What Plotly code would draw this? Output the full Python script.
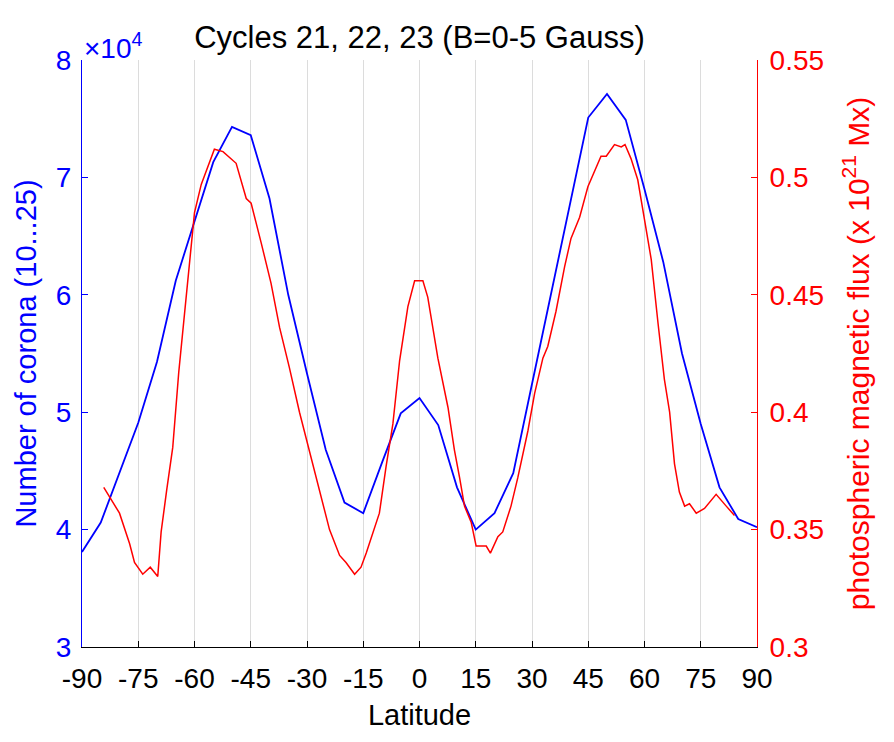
import plotly.graph_objects as go

# number of corona (blue), 5-degree bins
lat_corona = [-90, -85, -75, -70, -65, -60, -55, -50, -45, -40, -35, -30, -25, -20, -15, -10, -5,
              0, 5, 10, 15, 20, 25, 30, 35, 40, 45, 50, 55, 60, 65, 70, 75, 80, 85, 90]
corona = [38100, 40600, 49100, 54300, 61200, 66300, 71300, 74300, 73600, 68200, 60000, 53300, 46800,
          42300, 41400, 45700, 49900, 51200, 48900, 43600, 40000, 41400, 44800, 52400, 60000, 67500,
          75100, 77100, 74900, 69000, 62800, 55000, 49000, 43600, 40900, 40200]

# photospheric magnetic flux (red), 1e21 Mx
lat_flux = [-84.2, -80, -77.3, -76, -73.8, -71.8, -69.8, -68.9, -67.4, -65.8, -64.2, -62.2, -60, -58.2,
            -56, -54.7, -52.4, -50.2, -48.9, -46.2, -44.9, -42.2, -39.6, -37.3, -34.7, -32, -29.3,
            -26.7, -24, -21.3, -19.6, -17.3, -15.6, -14.2, -12.4, -10.7, -8.9, -7.1, -5.3, -3.1, -1.3,
            0.1, 0.9, 2.2, 4.9, 7.6, 9.3, 10.7, 12, 13.8, 15.1, 17.8, 18.9, 20.9, 22.2, 24.4, 26.2,
            28.9, 30.7, 32.9, 34.2, 36.4, 38.7, 40.4, 42.7, 44.9, 47.1, 48.4, 49.8, 52, 53.8, 54.8,
            56.4, 58.2, 60, 61.8, 63.6, 65.3, 66.7, 68, 69.3, 70.7, 72, 73.8, 76, 79.1, 81.8, 84]
flux = [0.368, 0.357, 0.344, 0.336, 0.331, 0.334, 0.330, 0.349, 0.367, 0.385, 0.417, 0.451, 0.485, 0.497,
        0.507, 0.512, 0.511, 0.508, 0.506, 0.491, 0.489, 0.472, 0.455, 0.436, 0.419, 0.400, 0.383,
        0.366, 0.350, 0.339, 0.336, 0.331, 0.334, 0.340, 0.349, 0.357, 0.377, 0.395, 0.422, 0.445, 0.456,
        0.456, 0.456, 0.449, 0.423, 0.402, 0.384, 0.372, 0.360, 0.353, 0.343, 0.343, 0.340, 0.347, 0.349,
        0.360, 0.372, 0.392, 0.408, 0.423, 0.428, 0.443, 0.462, 0.474, 0.483, 0.496, 0.504, 0.509,
        0.509, 0.514, 0.513, 0.514, 0.508, 0.499, 0.482, 0.465, 0.438, 0.414, 0.400, 0.378, 0.366,
        0.360, 0.361, 0.357, 0.359, 0.365, 0.360, 0.356]

x_ticks = list(range(-90, 91, 15))
x_labels = [str(v) for v in x_ticks]
left_ticks = [30000, 40000, 50000, 60000, 70000, 80000]
left_labels = ['3', '4', '5', '6', '7', '8']
right_ticks = [0.3, 0.35, 0.4, 0.45, 0.5, 0.55]
right_labels = ['0.3', '0.35', '0.4', '0.45', '0.5', '0.55']

fnt = 'Liberation Sans, Arial, sans-serif'

fig = go.Figure()
fig.add_trace(go.Scatter(x=lat_corona, y=corona, mode='lines', line=dict(color='#0000ff', width=1.8),
                         showlegend=False))
fig.add_trace(go.Scatter(x=lat_flux, y=flux, mode='lines', yaxis='y2',
                         line=dict(color='#ff0000', width=1.5), showlegend=False))

fig.update_layout(
    width=886, height=734,
    margin=dict(l=74, r=137, t=52, b=95, autoexpand=False),
    plot_bgcolor='white', paper_bgcolor='white',
    font=dict(family=fnt, size=28, color='black'),
    title=dict(text='Cycles 21, 22, 23 (B=0-5 Gauss)', x=0.5, xanchor='center', xref='paper',
               y=0.96, yanchor='middle', font=dict(size=31, color='black')),
    xaxis=dict(range=[-90, 90], tickvals=x_ticks, ticktext=x_labels, ticks='inside', ticklen=6,
               tickcolor='black', ticklabelstandoff=6,
               showgrid=True, gridcolor='#dcdcdc', gridwidth=1, zeroline=False,
               showline=True, linecolor='black', linewidth=1, tickfont=dict(size=28),
               title=dict(text='Latitude', font=dict(size=29), standoff=12)),
    yaxis=dict(range=[30000, 80000], tickvals=left_ticks, ticktext=left_labels,
               ticks='inside', ticklen=6, tickcolor='#0000ff', showgrid=False, zeroline=False,
               showline=True, linecolor='#0000ff', linewidth=1, ticklabelstandoff=4,
               tickfont=dict(color='#0000ff', size=28),
               title=dict(text='Number of corona (10...25)', font=dict(color='#0000ff', size=29),
                          standoff=10)),
    yaxis2=dict(range=[0.3, 0.55], tickvals=right_ticks, ticktext=right_labels, overlaying='y',
                side='right', ticks='inside', ticklen=6, tickcolor='#ff0000', showgrid=False,
                zeroline=False, showline=True, linecolor='#ff0000', linewidth=1,
                ticklabelstandoff=6, tickfont=dict(color='#ff0000', size=28),
                title=dict(text='photospheric magnetic flux (x 10<sup>21</sup> Mx)',
                           font=dict(color='#ff0000', size=30), standoff=24)),
)

fig.add_annotation(text='\u00d710<sup>4</sup>', xref='paper', yref='paper', x=0, y=1.0,
                   xanchor='left', yanchor='bottom', showarrow=False,
                   font=dict(color='#0000ff', size=28), yshift=-6)

fig.write_html("out.html")
